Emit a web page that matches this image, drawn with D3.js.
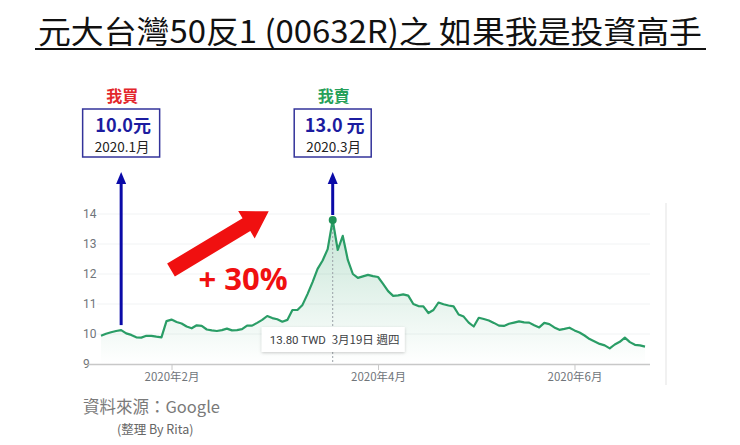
<!DOCTYPE html>
<html>
<head>
  <meta charset="utf-8">
  <script src="https://d3js.org/d3.v7.min.js"></script>
  <style>
    body { margin: 0; background: #fff; }
    svg { display: block; font-family: 'Noto Sans CJK TC', 'Noto Sans', sans-serif; }
  </style>
</head>
<body>
<svg width="740" height="445"></svg>
<script>
  // daily close, one value per trading day (2020 Jan -> Jun)
  var prices = [
    9.94, 10.01, 10.06, 10.10, 10.13, 10.02, 9.97, 9.89, 9.88, 9.94,
    9.94, 9.91, 9.89, 10.43, 10.48, 10.40, 10.35, 10.25, 10.19, 10.29,
    10.27, 10.15, 10.12, 10.10, 10.13, 10.18, 10.12, 10.13, 10.16, 10.28,
    10.28, 10.37, 10.47, 10.60, 10.53, 10.49, 10.41, 10.47, 10.80, 10.80,
    10.97, 11.33, 11.73, 12.17, 12.45, 12.83, 13.80, 12.80, 13.27, 12.47,
    12.00, 11.87, 11.92, 11.97, 11.93, 11.90, 11.67, 11.43, 11.27, 11.29,
    11.32, 11.28, 11.00, 10.93, 10.92, 10.70, 10.80, 11.05, 10.99, 10.95,
    10.92, 10.65, 10.58, 10.38, 10.25, 10.54, 10.50, 10.45, 10.37, 10.28,
    10.27, 10.34, 10.38, 10.42, 10.39, 10.38, 10.29, 10.22, 10.37, 10.33,
    10.22, 10.14, 10.17, 10.21, 10.12, 10.05, 9.95, 9.83, 9.75, 9.67,
    9.62, 9.52, 9.65, 9.74, 9.88, 9.73, 9.64, 9.62, 9.58
  ];
  var monthTickIdx = [14, 55, 94];
  var monthTickLabels = ["2020年2月", "2020年4月", "2020年6月"];
  var yTicks = [9, 10, 11, 12, 13, 14];

  var buyIdx = 4, sellIdx = 46;
  var buyLabel = "10.0元", buyDate = "2020.1月";
  var sellLabel = "13.0 元", sellDate = "2020.3月";
  var tipPrice = "13.80 TWD", tipDate = "3月19日 週四";

  var svg = d3.select("svg");
  var lineColor = "#2a9d66", blue = "#0a0aa8";

  var x = d3.scaleLinear().domain([0, prices.length - 1]).range([101, 645]);
  var y = d3.scaleLinear().domain([9, 14]).range([364, 214]);

  // title
  svg.append("text")
    .attr("x", 370).attr("y", 43)
    .attr("text-anchor", "middle")
    .attr("font-size", 31)
    .attr("textLength", 664).attr("lengthAdjust", "spacingAndGlyphs")
    .attr("fill", "#111")
    .text("元大台灣50反1 (00632R)之 如果我是投資高手");
  svg.append("line").attr("x1", 35).attr("x2", 706).attr("y1", 49).attr("y2", 49)
    .attr("stroke", "#111").attr("stroke-width", 2);

  // faint frame line at right
  svg.append("line").attr("x1", 666).attr("x2", 666).attr("y1", 203).attr("y2", 385)
    .attr("stroke", "#ececec").attr("stroke-width", 1.5);

  // gridlines
  svg.append("g").selectAll("line").data(yTicks.slice(1)).join("line")
    .attr("x1", 97).attr("x2", 650)
    .attr("y1", function (d) { return y(d); }).attr("y2", function (d) { return y(d); })
    .attr("stroke", "#f1f3f4").attr("stroke-width", 1);

  // y axis labels
  var yAxis = svg.append("g").attr("transform", "translate(97,0)")
    .call(d3.axisLeft(y).tickValues(yTicks).tickFormat(d3.format("d")).tickSize(0).tickPadding(14));
  yAxis.select(".domain").remove();
  yAxis.selectAll("text").attr("text-anchor", "start").attr("x", -14)
    .attr("fill", "#70757a").attr("font-size", 12).attr("font-family", "Roboto, 'Noto Sans', sans-serif");

  // x axis
  var xAxis = svg.append("g").attr("transform", "translate(0,364)")
    .call(d3.axisBottom(x).tickValues(monthTickIdx)
      .tickFormat(function (d, i) { return monthTickLabels[i]; })
      .tickSize(6).tickSizeOuter(0).tickPadding(3));
  xAxis.select(".domain").attr("d", "M88,0.5H650").attr("stroke", "#c8c8c8").attr("stroke-width", 1.5);
  xAxis.selectAll(".tick line").attr("stroke", "#c8c8c8");
  xAxis.selectAll("text").attr("fill", "#70757a").attr("font-size", 11.5)
    .attr("font-family", "'Noto Sans CJK TC', sans-serif");

  // area gradient
  var grad = svg.append("defs").append("linearGradient").attr("id", "fade")
    .attr("gradientUnits", "userSpaceOnUse").attr("x1", 0).attr("x2", 0)
    .attr("y1", y(14)).attr("y2", y(9));
  grad.append("stop").attr("offset", 0).attr("stop-color", lineColor).attr("stop-opacity", 0.28);
  grad.append("stop").attr("offset", 1).attr("stop-color", lineColor).attr("stop-opacity", 0);

  var area = d3.area().x(function (d, i) { return x(i); }).y0(y(9)).y1(function (d) { return y(d); });
  svg.append("path").datum(prices).attr("d", area).attr("fill", "url(#fade)");

  // hover guide
  svg.append("line").attr("x1", x(sellIdx)).attr("x2", x(sellIdx))
    .attr("y1", y(prices[sellIdx])).attr("y2", y(9))
    .attr("stroke", "#9aa0a6").attr("stroke-width", 1).attr("stroke-dasharray", "2,2");

  var line = d3.line().x(function (d, i) { return x(i); }).y(function (d) { return y(d); });
  svg.append("path").datum(prices).attr("d", line)
    .attr("fill", "none").attr("stroke", lineColor).attr("stroke-width", 2.2)
    .attr("stroke-linejoin", "round");

  // tooltip
  var tipX = x(sellIdx) - 71;
  var shadow = svg.append("defs").append("filter").attr("id", "sh")
    .attr("x", -0.2).attr("y", -0.5).attr("width", 1.4).attr("height", 2);
  shadow.append("feDropShadow").attr("dx", 0).attr("dy", 1).attr("stdDeviation", 1.5)
    .attr("flood-color", "#000").attr("flood-opacity", 0.2);
  svg.append("rect").attr("x", tipX).attr("y", 327).attr("width", 143).attr("height", 25)
    .attr("fill", "#fff").attr("filter", "url(#sh)");
  svg.append("text").attr("x", tipX + 8).attr("y", 344).attr("font-size", 11.5)
    .attr("fill", "#3c4043").attr("font-family", "Roboto, sans-serif").text(tipPrice);
  svg.append("text").attr("x", x(sellIdx) - 1).attr("y", 344).attr("font-size", 11.5)
    .attr("fill", "#3c4043").text(tipDate);

  svg.append("circle").attr("cx", x(sellIdx)).attr("cy", y(prices[sellIdx])).attr("r", 4)
    .attr("fill", "#1f9157");

  // blue arrows and boxes
  function marker(idx, head, main, sub, headColor) {
    var cx = x(idx), y0 = y(prices[idx]) - 5;
    svg.append("line").attr("x1", cx).attr("x2", cx).attr("y1", y0).attr("y2", 182)
      .attr("stroke", blue).attr("stroke-width", 3);
    svg.append("path").attr("d", "M" + (cx - 5) + ",184L" + cx + ",172L" + (cx + 5) + ",184Z")
      .attr("fill", blue);
    svg.append("rect").attr("x", cx - 38.5).attr("y", 109).attr("width", 77).attr("height", 48)
      .attr("fill", "#fff").attr("stroke", "#33339a").attr("stroke-width", 1.5);
    svg.append("text").attr("x", cx + 2).attr("y", 132).attr("text-anchor", "middle")
      .attr("font-size", 18).attr("font-weight", "bold").attr("fill", "#1c1ca0").text(main);
    svg.append("text").attr("x", cx + 1).attr("y", 152).attr("text-anchor", "middle")
      .attr("font-size", 13.5).attr("fill", "#222").text(sub);
    svg.append("text").attr("x", cx + 1).attr("y", 102).attr("text-anchor", "middle")
      .attr("font-size", 16).attr("font-weight", "bold").attr("fill", headColor).text(head);
  }
  marker(buyIdx, "我買", buyLabel, buyDate, "#e3262b");
  marker(sellIdx, "我賣", sellLabel, sellDate, "#27a05a");

  // red arrow
  var ra = svg.append("g").attr("transform", "translate(171,270) rotate(-31)");
  ra.append("path")
    .attr("d", "M0,-7.5H88V-16L114,0L88,16V7.5H0Z")
    .attr("fill", "#f01010");
  svg.append("text").attr("x", 243).attr("y", 290).attr("text-anchor", "middle")
    .attr("font-size", 31).attr("font-weight", "bold").attr("fill", "#f01010")
    .attr("font-family", "'Open Sans', 'Noto Sans', sans-serif").text("+ 30%");

  // source
  svg.append("text").attr("x", 83).attr("y", 413).attr("font-size", 16.5).attr("fill", "#7a7a7a")
    .text("資料來源：Google");
  svg.append("text").attr("x", 117).attr("y", 434).attr("font-size", 12.5).attr("fill", "#666")
    .text("(整理 By Rita)");
</script>
</body>
</html>
